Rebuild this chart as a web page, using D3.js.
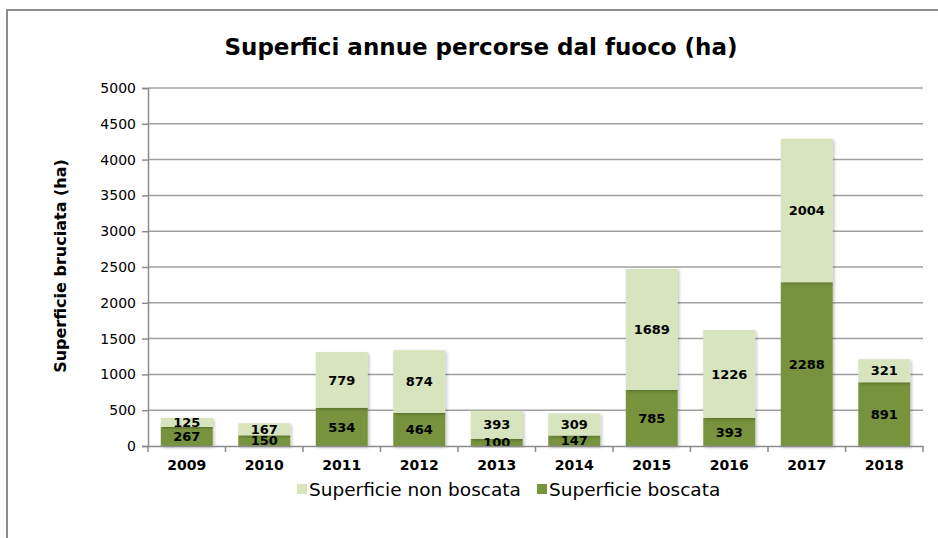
<!DOCTYPE html>
<html>
<head>
<meta charset="utf-8">
<script src="https://cdn.jsdelivr.net/npm/d3@7"></script>
<style>
  body { margin: 0; background: #fff; }
  svg { display: block; font-family: "DejaVu Sans", sans-serif; }
</style>
</head>
<body>
<div id="chart"></div>
<script>
// data
const YEARS = ["2009", "2010", "2011", "2012", "2013", "2014", "2015", "2016", "2017", "2018"];
const BOSCATA = [267, 150, 534, 464, 100, 147, 785, 393, 2288, 891];
const NON_BOSCATA = [125, 167, 779, 874, 393, 309, 1689, 1226, 2004, 321];
const Y_TICKS = [0, 500, 1000, 1500, 2000, 2500, 3000, 3500, 4000, 4500, 5000];
const SERIES = ["Superficie boscata", "Superficie non boscata"];

const WIDTH = 938, HEIGHT = 538;
const PLOT = {left: 148, right: 923, top: 88, bottom: 446};
const COLORS = {"Superficie boscata": "#77933c", "Superficie non boscata": "#d7e4bd"};

const svg = d3.select("#chart").append("svg")
  .attr("width", WIDTH)
  .attr("height", HEIGHT);

const defs = svg.append("defs");
const shadow = defs.append("filter").attr("id", "shadow")
  .attr("x", "-20%").attr("y", "-20%").attr("width", "140%").attr("height", "140%");
shadow.append("feDropShadow")
  .attr("dx", 1.5).attr("dy", 1.5).attr("stdDeviation", 1.5)
  .attr("flood-color", "#000").attr("flood-opacity", 0.25);

// outer frame
svg.append("rect")
  .attr("x", 7).attr("y", 10)
  .attr("width", WIDTH + 20).attr("height", HEIGHT + 20)
  .attr("fill", "none")
  .attr("stroke", "#8c8c8c")
  .attr("stroke-width", 2);

// title
svg.append("text")
  .attr("x", 481).attr("y", 55)
  .attr("text-anchor", "middle")
  .attr("font-size", "23px")
  .attr("font-weight", "bold")
  .text("Superfici annue percorse dal fuoco (ha)");

const x = d3.scaleBand()
  .domain(YEARS)
  .range([PLOT.left, PLOT.right])
  .paddingInner(0.33)
  .paddingOuter(0.165);

const y = d3.scaleLinear()
  .domain([0, 5000])
  .range([PLOT.bottom, PLOT.top]);

// gridlines
svg.append("g")
  .selectAll("line")
  .data(Y_TICKS.slice(1))
  .enter()
  .append("line")
    .attr("x1", PLOT.left).attr("x2", PLOT.right)
    .attr("y1", d => y(d)).attr("y2", d => y(d))
    .attr("stroke", "#a0a0a0")
    .attr("stroke-width", 1.5);

// stacked data
const rows = YEARS.map((yr, i) => ({year: yr, "Superficie boscata": BOSCATA[i], "Superficie non boscata": NON_BOSCATA[i]}));
const stacked = d3.stack().keys(SERIES)(rows);

const layers = svg.append("g")
  .selectAll("g")
  .data(stacked)
  .enter()
  .append("g")
    .attr("fill", d => COLORS[d.key]);

layers.selectAll("rect")
  .data(d => d)
  .enter()
  .append("rect")
    .attr("x", d => x(d.data.year))
    .attr("y", d => y(d[1]))
    .attr("width", x.bandwidth())
    .attr("height", d => y(d[0]) - y(d[1]))
    .attr("filter", "url(#shadow)");

// value labels
const labels = svg.append("g");
stacked.forEach(layer => {
  labels.selectAll(null)
    .data(layer)
    .enter()
    .append("text")
      .attr("x", d => x(d.data.year) + x.bandwidth() / 2)
      .attr("y", d => y((d[0] + d[1]) / 2))
      .attr("dy", "0.36em")
      .attr("text-anchor", "middle")
      .attr("font-size", "13px")
      .attr("font-weight", "bold")
      .attr("fill", "#000")
      .text(d => d[1] - d[0]);
});

// y axis
const yAxis = svg.append("g")
  .attr("transform", "translate(" + PLOT.left + ",0)")
  .call(d3.axisLeft(y).tickValues(Y_TICKS).tickFormat(d3.format("d")).tickSize(6).tickPadding(6));
yAxis.select(".domain").attr("stroke", "#8c8c8c").attr("stroke-width", 1.5);
yAxis.selectAll(".tick line").attr("stroke", "#8c8c8c").attr("stroke-width", 1.5);
yAxis.selectAll("text").attr("font-size", "14px").attr("fill", "#000")
  .attr("font-family", "DejaVu Sans, sans-serif");

// x axis
const xAxis = svg.append("g")
  .attr("transform", "translate(0," + PLOT.bottom + ")")
  .call(d3.axisBottom(x).tickSize(0).tickPadding(14));
xAxis.select(".domain").attr("stroke", "#8c8c8c").attr("stroke-width", 1.5);
xAxis.selectAll("text").attr("font-size", "14px").attr("font-weight", "bold").attr("fill", "#000")
  .attr("font-family", "DejaVu Sans, sans-serif");
// category separators
xAxis.selectAll(".sep")
  .data(YEARS.concat(["end"]))
  .enter()
  .append("line")
    .attr("x1", (d, i) => PLOT.left + i * x.step())
    .attr("x2", (d, i) => PLOT.left + i * x.step())
    .attr("y1", 0).attr("y2", 6)
    .attr("stroke", "#8c8c8c")
    .attr("stroke-width", 1.5);

// y axis title
svg.append("text")
  .attr("transform", "translate(66," + 266 + ") rotate(-90)")
  .attr("text-anchor", "middle")
  .attr("font-size", "16px")
  .attr("font-weight", "bold")
  .text("Superficie bruciata (ha)");

// legend
const legendItems = [
  {key: "Superficie non boscata", x: 297},
  {key: "Superficie boscata", x: 537}
];
const legend = svg.append("g");
legendItems.forEach(item => {
  legend.append("rect")
    .attr("x", item.x).attr("y", 484)
    .attr("width", 10).attr("height", 10)
    .attr("fill", COLORS[item.key]);
  legend.append("text")
    .attr("x", item.x + 12).attr("y", 496)
    .attr("font-size", "18.5px")
    .text(item.key);
});
</script>
</body>
</html>
